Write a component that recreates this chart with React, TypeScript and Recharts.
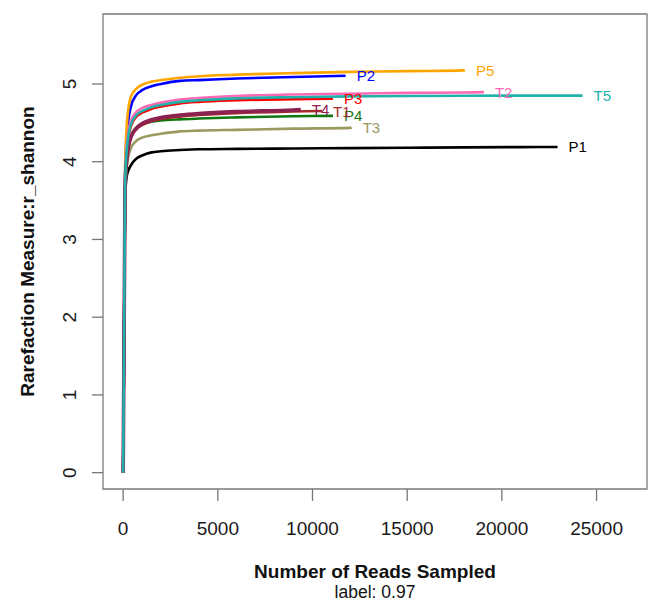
import React from 'react';
import { LineChart, Line, XAxis, YAxis, ReferenceArea } from 'recharts';

// Sampling depths (reads) shared by all curves; each curve stops at its own end depth
const steps = [1, 100, 200, 400, 700, 1000, 1500, 2000, 3000, 4000, 6000, 9000, 12000, 15000, 18000, 21000, 24000];

const samples = ['P1', 'P2', 'P3', 'P4', 'P5', 'T1', 'T2', 'T3', 'T4', 'T5'];
const endReads = [22940, 11750, 11080, 11080, 18050, 10500, 19050, 12070, 9380, 24260];

const p1Values = [0, 3.52, 3.83, 3.95, 4.04, 4.08, 4.12, 4.135, 4.15, 4.16, 4.165, 4.17, 4.175, 4.18, 4.185, 4.188, 4.19];
const p2Values = [0, 3.8, 4.35, 4.7, 4.86, 4.92, 4.97, 5.0, 5.04, 5.05, 5.07, 5.09, 5.105];
const p3Values = [0, 3.7, 4.15, 4.45, 4.58, 4.63, 4.68, 4.71, 4.75, 4.77, 4.79, 4.805, 4.81];
const p4Values = [0, 3.6, 4.0, 4.32, 4.44, 4.48, 4.515, 4.53, 4.545, 4.555, 4.57, 4.585, 4.59];
const p5Values = [0, 3.9, 4.5, 4.83, 4.94, 4.99, 5.03, 5.05, 5.08, 5.1, 5.12, 5.14, 5.155, 5.165, 5.175, 5.178];
const t1Values = [0, 3.65, 4.05, 4.3, 4.42, 4.47, 4.52, 4.55, 4.58, 4.6, 4.625, 4.645, 4.652];
const t2Values = [0, 3.75, 4.25, 4.52, 4.64, 4.69, 4.73, 4.76, 4.8, 4.82, 4.845, 4.865, 4.875, 4.885, 4.89, 4.895];
const t3Values = [0, 3.58, 3.95, 4.17, 4.27, 4.31, 4.34, 4.36, 4.39, 4.4, 4.41, 4.425, 4.435, 4.44];
const t4Values = [0, 3.65, 4.05, 4.31, 4.43, 4.49, 4.54, 4.57, 4.6, 4.62, 4.645, 4.665, 4.67];
const t5Values = [0, 3.7, 4.18, 4.47, 4.6, 4.65, 4.7, 4.73, 4.77, 4.79, 4.815, 4.83, 4.84, 4.845, 4.848, 4.85, 4.85, 4.85];

const xTicks = [0, 5000, 10000, 15000, 20000, 25000];
const yTicks = [0, 1, 2, 3, 4, 5];

const allValues = [p1Values, p2Values, p3Values, p4Values, p5Values, t1Values, t2Values, t3Values, t4Values, t5Values];
const colors = ['#000000', '#0000FF', '#FF0000', '#117711', '#FFA500', '#A52A2A', '#FF69B4', '#9A9A60', '#8B2252', '#20B2AA'];
const widths = [2.6, 2.6, 2.6, 2.6, 2.6, 2.6, 2.6, 2.6, 3.6, 2.6];

const FONT = '"Liberation Sans", Arial, Helvetica, sans-serif';
const X_DOMAIN: [number, number] = [-1064, 27664];
const Y_DOMAIN: [number, number] = [-0.21, 5.9];

const seriesData = samples.map((name, i) => {
  const vals = allValues[i];
  const end = endReads[i];
  const pts = steps.filter((s) => s < end).map((s, j) => ({ x: s, y: vals[j] }));
  pts.push({ x: end, y: vals[vals.length - 1] });
  return { name, color: colors[i], width: widths[i], data: pts };
});

const XTick = (props: any) => (
  <text x={props.x} y={props.y} textAnchor="middle" dominantBaseline="central" fontSize={19} fontFamily={FONT} fill="#1a1a1a">
    {props.payload.value}
  </text>
);

const YTick = (props: any) => (
  <text
    x={props.x}
    y={props.y}
    textAnchor="middle"
    dominantBaseline="central"
    fontSize={19}
    fontFamily={FONT}
    fill="#1a1a1a"
    transform={`rotate(-90 ${props.x} ${props.y})`}
  >
    {props.payload.value}
  </text>
);

const XTitle = (props: any) => {
  const vb = props.viewBox || {};
  const cx = vb.x + vb.width / 2;
  return (
    <g>
      <text x={cx} y={vb.y + 82} textAnchor="middle" dominantBaseline="central" fontSize={19} fontWeight="bold" fontFamily={FONT} fill="#111">
        Number of Reads Sampled
      </text>
      <text x={cx} y={vb.y + 103} textAnchor="middle" dominantBaseline="central" fontSize={17.5} fontFamily={FONT} fill="#111">
        label: 0.97
      </text>
    </g>
  );
};

const YTitle = (props: any) => {
  const vb = props.viewBox || {};
  const cx = 27;
  const cy = vb.y + vb.height / 2;
  return (
    <text
      x={cx}
      y={cy}
      textAnchor="middle"
      dominantBaseline="central"
      fontSize={19}
      fontWeight="bold"
      fontFamily={FONT}
      fill="#111"
      transform={`rotate(-90 ${cx} ${cy})`}
    >
      Rarefaction Measure:r_shannon
    </text>
  );
};

const makeEndLabel = (name: string, color: string, lastIndex: number) => (props: any) => {
  if (props.index !== lastIndex) return <g />;
  return (
    <text x={props.x + 11} y={props.y} textAnchor="start" dominantBaseline="central" fontSize={15} fontFamily={FONT} fill={color}>
      {name}
    </text>
  );
};

export default function App() {
  return (
    <div style={{ position: 'absolute', left: 0, top: 0, width: 648, height: 602, background: '#fff' }}>
      <LineChart width={648} height={602} margin={{ top: 14, right: 1, bottom: 0, left: 0 }}>
        <XAxis
          type="number"
          dataKey="x"
          domain={X_DOMAIN}
          ticks={xTicks}
          allowDataOverflow
          axisLine={false}
          tickSize={12}
          tickMargin={27}
          tickLine={{ stroke: '#777', strokeWidth: 1.3 }}
          tick={<XTick />}
          height={113}
          label={<XTitle />}
        />
        <YAxis
          type="number"
          dataKey="y"
          domain={Y_DOMAIN}
          ticks={yTicks}
          allowDataOverflow
          axisLine={false}
          tickSize={11}
          tickMargin={22}
          tickLine={{ stroke: '#777', strokeWidth: 1.3 }}
          tick={<YTick />}
          width={103}
          label={<YTitle />}
        />
        <ReferenceArea
          x1={X_DOMAIN[0]}
          x2={X_DOMAIN[1]}
          y1={Y_DOMAIN[0]}
          y2={Y_DOMAIN[1]}
          fill="none"
          stroke="#7a7a7a"
          strokeWidth={1.3}
          ifOverflow="visible"
        />
        {seriesData.map((s) => (
          <Line
            key={s.name}
            data={s.data}
            dataKey="y"
            type="monotone"
            stroke={s.color}
            strokeWidth={s.width}
            dot={false}
            activeDot={false}
            isAnimationActive={false}
            label={makeEndLabel(s.name, s.color, s.data.length - 1)}
          />
        ))}
      </LineChart>
    </div>
  );
}
